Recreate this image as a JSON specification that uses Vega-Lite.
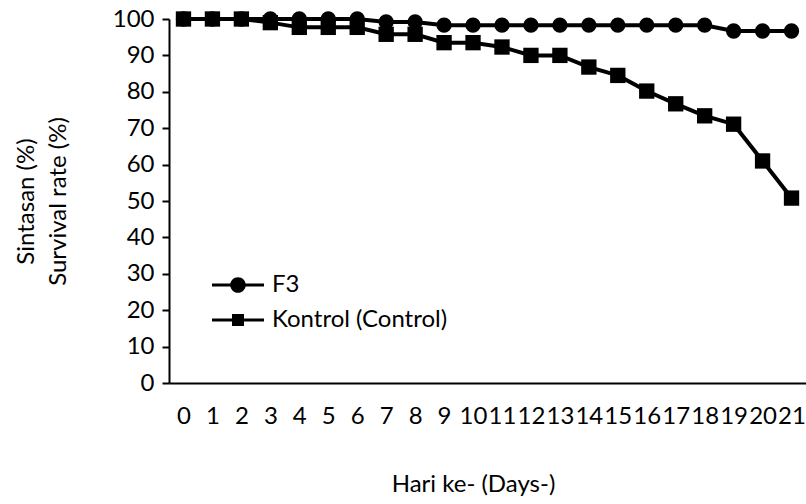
{
  "$schema": "https://vega.github.io/schema/vega-lite/v6.json",
  "width": 637,
  "height": 364,
  "autosize": {"type": "none"},
  "padding": {"left": 169, "top": 19, "right": 0, "bottom": 121},
  "background": "white",
  "config": {
    "view": {"stroke": null},
    "font": "Lato",
    "axis": {"labelFont": "Lato", "titleFont": "Lato", "labelColor": "#000", "titleColor": "#000", "domainColor": "#000", "tickColor": "#000", "grid": false},
    "legend": {"labelFont": "Lato", "labelColor": "#000"}
  },
  "data": {"values": [
    {"day": 0, "series": "F3", "value": 100},
    {"day": 1, "series": "F3", "value": 100},
    {"day": 2, "series": "F3", "value": 100},
    {"day": 3, "series": "F3", "value": 100},
    {"day": 4, "series": "F3", "value": 100},
    {"day": 5, "series": "F3", "value": 100},
    {"day": 6, "series": "F3", "value": 100},
    {"day": 7, "series": "F3", "value": 99.2},
    {"day": 8, "series": "F3", "value": 99.2},
    {"day": 9, "series": "F3", "value": 98.3},
    {"day": 10, "series": "F3", "value": 98.3},
    {"day": 11, "series": "F3", "value": 98.3},
    {"day": 12, "series": "F3", "value": 98.3},
    {"day": 13, "series": "F3", "value": 98.3},
    {"day": 14, "series": "F3", "value": 98.3},
    {"day": 15, "series": "F3", "value": 98.3},
    {"day": 16, "series": "F3", "value": 98.3},
    {"day": 17, "series": "F3", "value": 98.3},
    {"day": 18, "series": "F3", "value": 98.3},
    {"day": 19, "series": "F3", "value": 96.7},
    {"day": 20, "series": "F3", "value": 96.7},
    {"day": 21, "series": "F3", "value": 96.7},
    {"day": 0, "series": "Kontrol (Control)", "value": 100},
    {"day": 1, "series": "Kontrol (Control)", "value": 100},
    {"day": 2, "series": "Kontrol (Control)", "value": 100},
    {"day": 3, "series": "Kontrol (Control)", "value": 99.0},
    {"day": 4, "series": "Kontrol (Control)", "value": 97.7},
    {"day": 5, "series": "Kontrol (Control)", "value": 97.7},
    {"day": 6, "series": "Kontrol (Control)", "value": 97.7},
    {"day": 7, "series": "Kontrol (Control)", "value": 95.8},
    {"day": 8, "series": "Kontrol (Control)", "value": 95.8},
    {"day": 9, "series": "Kontrol (Control)", "value": 93.5},
    {"day": 10, "series": "Kontrol (Control)", "value": 93.5},
    {"day": 11, "series": "Kontrol (Control)", "value": 92.3},
    {"day": 12, "series": "Kontrol (Control)", "value": 90.0},
    {"day": 13, "series": "Kontrol (Control)", "value": 90.0},
    {"day": 14, "series": "Kontrol (Control)", "value": 86.8},
    {"day": 15, "series": "Kontrol (Control)", "value": 84.5},
    {"day": 16, "series": "Kontrol (Control)", "value": 80.2},
    {"day": 17, "series": "Kontrol (Control)", "value": 76.7},
    {"day": 18, "series": "Kontrol (Control)", "value": 73.4},
    {"day": 19, "series": "Kontrol (Control)", "value": 71.1},
    {"day": 20, "series": "Kontrol (Control)", "value": 61.0},
    {"day": 21, "series": "Kontrol (Control)", "value": 50.8}
  ]},
  "encoding": {
    "x": {
      "field": "day", "type": "ordinal",
      "scale": {"type": "point", "padding": 0.5},
      "axis": {
        "title": "Hari ke- (Days-)",
        "titleFontSize": 24, "titleFontWeight": "normal", "titlePadding": 44, "titleX": 304,
        "labelFontSize": 24, "labelAngle": 0, "labelPadding": 21, "labelOverlap": false, "labelFlush": false,
        "ticks": false, "tickSize": 0, "domainWidth": 2
      }
    },
    "y": {
      "field": "value", "type": "quantitative",
      "scale": {"domain": [0, 100], "nice": false, "zero": true},
      "axis": {
        "title": ["Sintasan (%)", "Survival rate (%)"],
        "titleFontSize": 24, "titleFontWeight": "normal", "titleLineHeight": 32, "titlePadding": 42,
        "values": [0, 10, 20, 30, 40, 50, 60, 70, 80, 90, 100],
        "labelFontSize": 24, "labelPadding": 8,
        "tickSize": 7, "tickWidth": 2, "domainWidth": 2
      }
    }
  },
  "layer": [
    {
      "mark": {"type": "line", "color": "#000", "strokeWidth": 4},
      "encoding": {"detail": {"field": "series", "type": "nominal"}}
    },
    {
      "mark": {"type": "point", "filled": true, "opacity": 1, "color": "#000"},
      "encoding": {
        "shape": {
          "field": "series", "type": "nominal",
          "scale": {"domain": ["F3", "Kontrol (Control)"], "range": ["circle", "square"]},
          "legend": null
        },
        "size": {"value": 235}
      }
    },
    {
      "mark": {"type": "point", "filled": true, "opacity": 0, "color": "#000"},
      "encoding": {
        "shape": {
          "field": "series", "type": "nominal",
          "scale": {"domain": ["F3", "Kontrol (Control)"], "range": [
            "M-2.6,-0.16L2.6,-0.16L2.6,0.16L-2.6,0.16Z M0.78,0A0.78,0.78 0 1,1 -0.78,0A0.78,0.78 0 1,1 0.78,0Z",
            "M-2.6,-0.16L2.6,-0.16L2.6,0.16L-2.6,0.16Z M-0.6,-0.6L0.6,-0.6L0.6,0.6L-0.6,0.6Z"
          ]},
          "legend": {
            "title": null,
            "orient": "none",
            "legendX": 57,
            "legendY": 254,
            "padding": 0,
            "symbolSize": 400,
            "symbolFillColor": "#000",
            "symbolOpacity": 1,
            "symbolStrokeWidth": 0,
            "labelFontSize": 24,
            "labelLimit": 400,
            "labelOffset": 22,
            "rowPadding": 11
          }
        },
        "size": {"value": 400}
      }
    }
  ],
  "resolve": {"scale": {"shape": "independent"}, "legend": {"shape": "independent"}}
}
